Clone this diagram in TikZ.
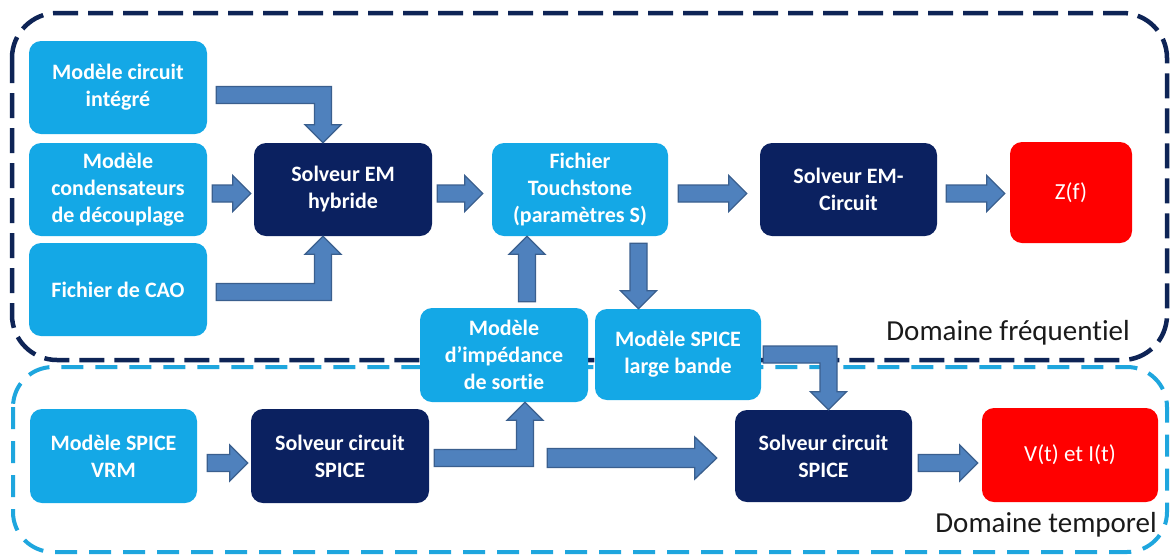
\documentclass[tikz,border=0pt]{standalone}
\usepackage{fontspec}
\setmainfont{Carlito}[Ligatures={NoCommon}]
\usetikzlibrary{calc}
\definecolor{cLight}{HTML}{14A8E6}
\definecolor{cDark}{HTML}{0B2160}
\definecolor{cRed}{HTML}{FF0000}
\definecolor{cArrowFill}{HTML}{4F81BD}
\definecolor{cArrowLine}{HTML}{3A5F8E}
\definecolor{cFreqDash}{HTML}{0E2456}
\definecolor{cTempDash}{HTML}{1EA6DE}
\definecolor{cLabel}{HTML}{1A1A1A}
\tikzset{
  box/.style={rounded corners=12pt, inner sep=0pt, align=center, text=white,
    font=\fontsize{22}{27}\selectfont\bfseries, minimum width=178pt, minimum height=93pt},
  lightbox/.style={box, fill=cLight},
  darkbox/.style={box, fill=cDark},
  redbox/.style={box, fill=cRed, font=\fontsize{23}{27}\selectfont},
  blockarrow/.style={fill=cArrowFill, draw=cArrowLine, line width=1.3pt, line join=miter},
  domainlabel/.style={anchor=base east, inner sep=0pt, text=cLabel, font=\fontsize{29}{34}\selectfont},
  freqframe/.style={draw=cFreqDash, line width=4.5pt, dash pattern=on 25pt off 10pt, rounded corners=45pt},
  tempframe/.style={draw=cTempDash, line width=4pt, dash pattern=on 22pt off 12pt, rounded corners=40pt}
}
\def\sw{8.5}\def\hw{18}\def\hl{18}
% right arrow
\newcommand{\arrowR}[2]{\filldraw[blockarrow] let \p1=(#1), \p2=(#2) in
  (\x1,\y1+\sw) -- (\x2-\hl,\y1+\sw) -- (\x2-\hl,\y1+\hw) -- (\x2,\y1) -- (\x2-\hl,\y1-\hw) -- (\x2-\hl,\y1-\sw) -- (\x1,\y1-\sw) -- cycle;}
% up arrow
\newcommand{\arrowU}[2]{\filldraw[blockarrow] let \p1=(#1), \p2=(#2) in
  (\x1-\sw,\y1) -- (\x1-\sw,\y2-\hl) -- (\x1-\hw,\y2-\hl) -- (\x1,\y2) -- (\x1+\hw,\y2-\hl) -- (\x1+\sw,\y2-\hl) -- (\x1+\sw,\y1) -- cycle;}
% down arrow
\newcommand{\arrowD}[2]{\filldraw[blockarrow] let \p1=(#1), \p2=(#2) in
  (\x1-\sw,\y1) -- (\x1-\sw,\y2+\hl) -- (\x1-\hw,\y2+\hl) -- (\x1,\y2) -- (\x1+\hw,\y2+\hl) -- (\x1+\sw,\y2+\hl) -- (\x1+\sw,\y1) -- cycle;}
% right then down
\newcommand{\arrowRD}[2]{\filldraw[blockarrow] let \p1=(#1), \p2=(#2) in
  (\x1,\y1+\sw) -- (\x2+\sw,\y1+\sw) -- (\x2+\sw,\y2+\hl) -- (\x2+\hw,\y2+\hl) -- (\x2,\y2) -- (\x2-\hw,\y2+\hl) -- (\x2-\sw,\y2+\hl) -- (\x2-\sw,\y1-\sw) -- (\x1,\y1-\sw) -- cycle;}
% right then up
\newcommand{\arrowRU}[2]{\filldraw[blockarrow] let \p1=(#1), \p2=(#2) in
  (\x1,\y1-\sw) -- (\x2+\sw,\y1-\sw) -- (\x2+\sw,\y2-\hl) -- (\x2+\hw,\y2-\hl) -- (\x2,\y2) -- (\x2-\hw,\y2-\hl) -- (\x2-\sw,\y2-\hl) -- (\x2-\sw,\y1+\sw) -- (\x1,\y1+\sw) -- cycle;}

\begin{document}
\begin{tikzpicture}[x=1pt, y=-1pt]
\useasboundingbox (0,0) rectangle (1171,558);
\fill[white] (0,0) rectangle (1171,558);

% domain frames
\draw[freqframe] (12,13) rectangle (1167,360);
\draw[tempframe] (13,367) rectangle (1167,552);

% frequency domain boxes
\node[lightbox] (ci)  at (118,87.5)  {Modèle circuit\\intégré};
\node[lightbox] (cd)  at (118,189.5) {Modèle\\condensateurs\\de découplage};
\node[lightbox] (cao) at (118,289.5) {Fichier de CAO};
\node[darkbox]  (emh) at (343,189.5) {Solveur EM\\hybride};
\node[lightbox, minimum width=176pt] (ts) at (580,189.5) {Fichier\\Touchstone\\(paramètres S)};
\node[darkbox, minimum width=177pt] (emc) at (848.5,189.5) {Solveur EM-\\Circuit};
\node[redbox, minimum width=122pt, minimum height=101pt] (zf) at (1071,192.5) {Z(f)};

% middle boxes
\node[lightbox, minimum width=168pt, minimum height=94pt] (imp) at (504,355) {Modèle\\d’impédance\\de sortie};
\node[lightbox, minimum width=166pt, minimum height=91pt] (slb) at (678,354.5) {Modèle SPICE\\large bande};

% time domain boxes
\node[lightbox, minimum width=167pt, minimum height=94pt] (vrm) at (113.5,456) {Modèle SPICE\\VRM};
\node[darkbox, minimum width=178pt, minimum height=94pt] (ss1) at (340,456) {Solveur circuit\\SPICE};
\node[darkbox, minimum width=177pt, minimum height=92pt] (ss2) at (823.5,456) {Solveur circuit\\SPICE};
\node[redbox, minimum width=176pt, minimum height=94pt] (vt) at (1070,455) {V(t) et I(t)};

% labels
\node[domainlabel] (lf) at (1130,340) {Domaine fréquentiel};
\node[domainlabel] (lt) at (1157,532) {Domaine temporel};

% arrows, frequency domain
\arrowRD{$(ci.east)+(9,7.5)$}{$(emh.north)+(-20,0)$}
\arrowR{$(cd.east)+(5,4)$}{$(emh.west)+(-3,4)$}
\arrowRU{$(cao.east)+(9,2.5)$}{$(emh.south)+(-20,0)$}
\arrowR{$(emh.east)+(5,4)$}{$(ts.west)+(-9,4)$}
\arrowR{$(ts.east)+(10,4)$}{$(emc.west)+(-13,4)$}
\arrowR{$(emc.east)+(9,4)$}{$(zf.west)+(-5,4)$}
\arrowU{$(imp.north)+(23,-6)$}{$(ts.south)+(0,0)$}
\arrowD{$(ts.south)+(58.5,7)$}{$(slb.north)+(0,0)$}

% arrows, time domain
\arrowR{$(vrm.east)+(10,7)$}{$(ss1.west)+(-3,7)$}
\arrowRU{$(ss1.east)+(5,2)$}{$(imp.south)+(21,0)$}
\begingroup
\def\hw{21}\def\hl{22}\def\sw{9.5}
\arrowR{$(ss1.east)+(118,2)$}{$(ss2.west)+(-18,2)$}
\endgroup
\arrowRD{$(slb.east)+(2,0)$}{$(ss2.north)+(5,0)$}
\arrowR{$(ss2.east)+(6,7)$}{$(vt.west)+(-4,7)$}
\end{tikzpicture}
\end{document}
